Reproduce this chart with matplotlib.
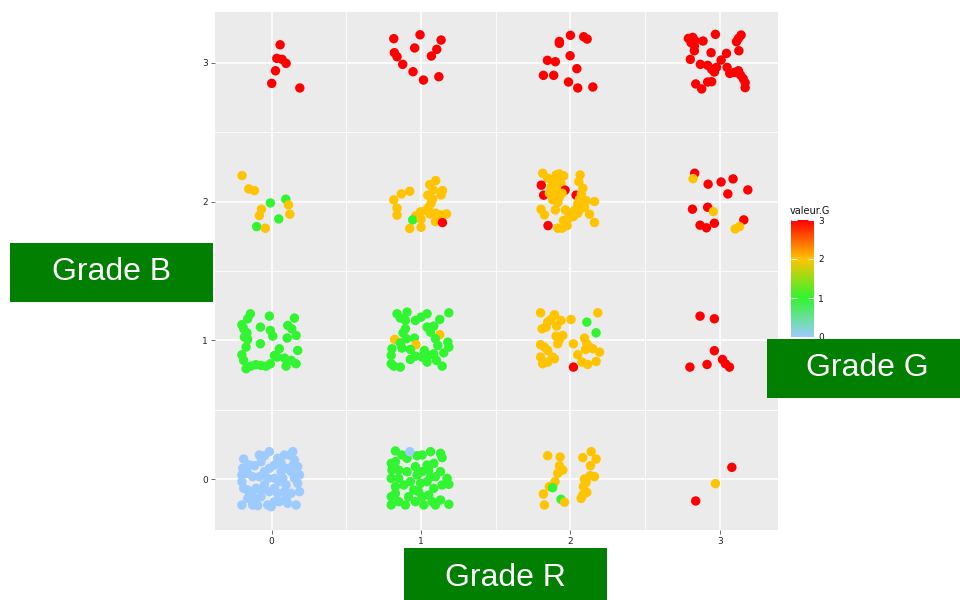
import matplotlib.pyplot as plt
import numpy as np
from matplotlib.colors import LinearSegmentedColormap
from matplotlib.patches import Rectangle

# jittered points per cell (grade R, grade B): (offset R, offset B, valeur.G)
r0_b3 = [(0.056, 0.129, 3), (0.034, 0.031, 3), (0.069, 0.024, 3), (0.096, -0.005, 3),
         (0.025, -0.058, 3), (0.0, -0.149, 3), (0.188, -0.182, 3)]
r1_b3 = [(-0.183, 0.173, 3), (-0.007, 0.201, 3), (0.134, 0.163, 3), (-0.043, 0.106, 3),
         (0.105, 0.096, 3), (-0.179, 0.072, 3), (-0.161, 0.043, 3), (0.069, 0.048, 3),
         (-0.123, -0.012, 3), (-0.054, -0.065, 3), (0.016, -0.125, 3), (0.119, -0.101, 3)]
r2_b3 = [(-0.074, 0.153, 3), (-0.074, 0.139, 3), (0.0, 0.197, 3), (0.089, 0.187, 3),
         (0.112, 0.170, 3), (-0.002, 0.050, 3), (-0.154, 0.017, 3), (-0.101, 0.007, 3),
         (0.043, -0.043, 3), (-0.181, -0.091, 3), (-0.112, -0.091, 3), (-0.013, -0.139, 3),
         (0.049, -0.182, 3), (0.150, -0.175, 3)]
r3_b3 = [(-0.210, 0.175, 3), (-0.181, 0.182, 3), (-0.166, 0.158, 3), (-0.192, 0.144, 3),
         (-0.170, 0.120, 3), (-0.112, 0.156, 3), (-0.029, 0.204, 3), (0.143, 0.199, 3),
         (0.125, 0.175, 3), (0.112, 0.151, 3), (-0.170, 0.086, 3), (-0.058, 0.072, 3),
         (0.045, 0.067, 3), (0.128, 0.086, 3), (-0.197, 0.024, 3), (0.009, 0.019, 3),
         (-0.130, -0.012, 3), (-0.081, -0.019, 3), (-0.054, -0.048, 3), (-0.022, -0.034, 3),
         (-0.036, -0.067, 3), (0.049, -0.034, 3), (0.067, -0.077, 3), (0.098, -0.070, 3),
         (0.125, -0.058, 3), (0.139, -0.089, 3), (0.157, -0.115, 3), (0.170, -0.144, 3),
         (0.170, -0.180, 3), (-0.161, -0.153, 3), (-0.121, -0.189, 3), (-0.081, -0.139, 3),
         (-0.054, -0.137, 3)]

r0_b2 = [(-0.199, 0.187, 2), (-0.154, 0.091, 2), (-0.116, 0.079, 2), (-0.009, -0.010, 1),
         (0.094, 0.017, 1), (0.112, -0.024, 2), (0.121, -0.091, 2), (-0.069, -0.055, 2),
         (-0.083, -0.101, 2), (0.047, -0.125, 1), (-0.101, -0.180, 1), (-0.043, -0.192, 2)]
r1_b2 = [(0.098, 0.151, 2), (0.058, 0.122, 2), (0.081, 0.084, 2), (0.143, 0.079, 2),
         (0.134, 0.048, 2), (0.045, 0.046, 2), (-0.076, 0.074, 2), (-0.132, 0.055, 2),
         (-0.183, 0.012, 2), (-0.161, -0.048, 2), (-0.161, -0.098, 2), (0.078, 0.017, 2),
         (0.067, -0.012, 2), (0.051, -0.041, 2), (0.031, -0.065, 2), (-0.004, -0.074, 2),
         (-0.036, -0.103, 2), (-0.056, -0.132, 1), (0.0, -0.127, 2), (-0.076, -0.194, 2),
         (0.0, -0.185, 2), (0.098, -0.084, 2), (0.130, -0.096, 2), (0.170, -0.089, 2),
         (0.096, -0.144, 2), (0.121, -0.132, 2), (0.143, -0.151, 3), (0.058, -0.089, 2)]
r2_b2 = [(-0.186, 0.204, 2), (-0.152, 0.168, 2), (-0.096, 0.192, 2), (-0.074, 0.199, 2),
         (-0.045, 0.185, 2), (-0.119, 0.144, 2), (-0.085, 0.151, 2), (-0.063, 0.127, 2),
         (0.065, 0.192, 2), (0.056, 0.144, 2), (0.083, 0.096, 2), (-0.195, 0.118, 3),
         (-0.179, 0.046, 3), (-0.036, 0.082, 3), (0.038, 0.046, 3), (-0.141, 0.060, 2),
         (-0.107, 0.048, 2), (-0.074, 0.031, 2), (-0.130, 0.103, 2), (-0.096, 0.084, 2),
         (-0.056, 0.060, 2), (-0.085, -0.007, 2), (-0.119, 0.012, 2), (0.060, 0.017, 2),
         (0.105, 0.007, 2), (0.161, 0.0, 2), (-0.197, -0.055, 2), (-0.174, -0.096, 2),
         (-0.101, -0.060, 2), (-0.034, -0.060, 2), (-0.011, -0.084, 2), (0.027, -0.065, 2),
         (0.065, -0.055, 2), (0.128, -0.091, 2), (-0.018, -0.127, 2), (0.020, -0.108, 2),
         (0.049, -0.084, 2), (-0.047, -0.137, 2), (0.161, -0.151, 2), (-0.150, -0.173, 3),
         (-0.085, -0.192, 2), (-0.056, -0.192, 2), (-0.022, -0.173, 2), (0.049, -0.017, 2),
         (0.094, -0.041, 2), (0.074, 0.055, 2)]
r3_b2 = [(-0.168, 0.204, 3), (-0.179, 0.165, 2), (-0.078, 0.125, 3), (0.009, 0.141, 3),
         (0.089, 0.163, 3), (0.054, 0.055, 3), (0.188, 0.084, 3), (-0.183, -0.055, 3),
         (-0.081, -0.041, 3), (-0.043, -0.072, 2), (-0.132, -0.170, 3), (-0.089, -0.189, 3),
         (-0.036, -0.156, 3), (0.161, -0.132, 3), (0.103, -0.197, 2), (0.132, -0.180, 2)]

r0_b1 = [(-0.143, 0.192, 1), (-0.161, 0.156, 1), (-0.200, 0.113, 1), (-0.188, 0.084, 1),
         (-0.166, 0.055, 1), (-0.183, 0.024, 1), (-0.016, 0.175, 1), (-0.076, 0.096, 1),
         (-0.009, 0.072, 1), (0.007, 0.031, 1), (0.152, 0.161, 1), (0.107, 0.108, 1),
         (0.134, 0.084, 1), (0.163, 0.036, 1), (0.103, 0.017, 1), (-0.076, -0.024, 1),
         (-0.172, -0.048, 1), (-0.200, -0.103, 1), (-0.188, -0.144, 1), (-0.172, -0.204, 1),
         (-0.139, -0.185, 1), (-0.105, -0.175, 1), (-0.072, -0.180, 1), (-0.038, -0.185, 1),
         (-0.009, -0.168, 1), (0.018, -0.108, 1), (0.051, -0.060, 1), (0.085, -0.127, 1),
         (0.096, -0.185, 1), (0.130, -0.144, 1), (0.163, -0.168, 1), (0.174, -0.072, 1),
         (0.036, -0.120, 1), (-0.161, 0.007, 1)]
r1_b1 = [(-0.161, 0.192, 1), (-0.139, 0.161, 1), (-0.105, 0.144, 1), (-0.094, 0.204, 1),
         (-0.038, 0.144, 1), (0.0, 0.168, 1), (0.040, 0.192, 1), (0.186, 0.199, 1),
         (0.125, 0.151, 1), (-0.105, 0.084, 1), (-0.121, 0.055, 1), (0.040, 0.096, 1),
         (0.085, 0.103, 1), (0.063, 0.060, 1), (-0.098, 0.012, 1), (-0.177, 0.007, 2),
         (-0.139, -0.017, 1), (-0.128, -0.055, 1), (-0.045, 0.017, 1), (-0.034, -0.031, 2),
         (-0.072, -0.065, 1), (0.125, 0.041, 2), (0.096, 0.012, 1), (0.179, -0.012, 1),
         (0.186, -0.048, 1), (0.112, -0.036, 1), (0.152, -0.089, 1), (-0.195, -0.060, 1),
         (-0.200, -0.108, 1), (-0.200, -0.168, 1), (-0.183, -0.185, 1), (-0.139, -0.192, 1),
         (-0.072, -0.137, 1), (-0.038, -0.113, 1), (0.007, -0.120, 1), (0.051, -0.108, 1),
         (0.085, -0.096, 1), (0.103, -0.144, 1), (0.141, -0.185, 1), (0.040, -0.156, 1),
         (0.022, -0.072, 1)]
r2_b1 = [(-0.200, 0.199, 2), (-0.107, 0.185, 2), (-0.130, 0.151, 2), (-0.152, 0.132, 2),
         (-0.163, 0.096, 2), (-0.190, 0.084, 2), (-0.092, 0.103, 2), (-0.063, 0.144, 2),
         (0.004, 0.151, 2), (0.183, 0.199, 2), (0.110, 0.132, 1), (0.172, 0.055, 1),
         (-0.096, 0.031, 2), (-0.074, 0.007, 2), (-0.051, 0.036, 2), (-0.200, -0.031, 2),
         (-0.174, -0.048, 2), (-0.152, -0.072, 2), (-0.119, -0.120, 2), (-0.200, -0.120, 2),
         (-0.186, -0.168, 2), (-0.152, -0.156, 2), (-0.107, -0.132, 2), (0.020, -0.024, 2),
         (0.094, 0.017, 2), (0.110, -0.024, 2), (0.128, -0.048, 2), (0.101, -0.065, 2),
         (0.049, -0.103, 2), (0.078, -0.156, 2), (0.116, -0.173, 2), (0.172, -0.151, 2),
         (0.195, -0.084, 2), (0.150, -0.060, 2), (-0.085, -0.024, 2), (0.020, -0.192, 3)]
r3_b1 = [(-0.132, 0.175, 3), (-0.036, 0.156, 3), (-0.036, -0.074, 3), (-0.085, -0.173, 3),
         (-0.200, -0.192, 3), (0.018, -0.137, 3), (0.038, -0.168, 3), (0.065, -0.192, 3)]

r0_b0 = [(-0.188, 0.146, 0), (-0.195, 0.079, 0), (-0.200, 0.031, 0), (-0.200, -0.017, 0),
         (-0.188, -0.065, 0), (-0.200, -0.185, 0), (-0.161, -0.137, 0), (-0.128, -0.185, 0),
         (-0.094, -0.189, 0), (-0.027, -0.185, 0), (-0.072, -0.125, 0), (-0.016, -0.089, 0),
         (0.018, -0.065, 0), (0.040, -0.101, 0), (0.096, -0.137, 0), (0.107, -0.173, 0),
         (0.163, -0.185, 0), (0.186, -0.089, 0), (0.174, -0.029, 0), (0.186, 0.031, 0),
         (0.174, 0.091, 0), (0.152, 0.139, 0), (0.119, 0.175, 0), (0.141, 0.199, 0),
         (0.085, 0.175, 0), (0.040, 0.151, 0), (0.018, 0.103, 0), (-0.016, 0.199, 0),
         (-0.049, 0.170, 0), (-0.083, 0.175, 0), (-0.072, 0.127, 0), (-0.116, 0.098, 0),
         (-0.150, 0.103, 0), (-0.161, 0.043, 0), (-0.128, 0.019, 0), (-0.083, 0.019, 0),
         (-0.049, 0.055, 0), (-0.016, 0.079, 0), (0.063, 0.115, 0), (0.096, 0.079, 0),
         (0.130, 0.055, 0), (0.074, 0.007, 0), (0.096, -0.041, 0), (0.051, -0.017, 0),
         (0.018, 0.007, 0), (-0.049, -0.041, 0), (-0.105, -0.065, 0), (-0.161, -0.077, 0),
         (-0.139, -0.108, 0), (-0.072, -0.077, 0), (0.018, -0.161, 0), (0.051, -0.161, 0),
         (0.130, -0.101, 0), (0.152, 0.007, 0), (-0.027, 0.007, 0), (-0.105, -0.137, 0),
         (-0.004, -0.197, 0), (0.085, -0.089, 0), (0.141, 0.098, 0), (0.063, 0.055, 0)]
r1_b0 = [(-0.172, 0.204, 1), (-0.128, 0.175, 1), (-0.094, 0.151, 1), (-0.200, 0.115, 1),
         (-0.172, 0.127, 1), (-0.027, 0.170, 1), (0.007, 0.175, 1), (0.063, 0.199, 1),
         (0.130, 0.187, 1), (0.141, 0.156, 1), (0.085, 0.115, 1), (0.040, 0.103, 1),
         (-0.038, 0.091, 1), (0.007, 0.055, 1), (0.051, 0.067, 1), (-0.027, 0.031, 1),
         (-0.094, 0.055, 1), (-0.195, 0.067, 1), (-0.200, 0.007, 1), (-0.150, 0.007, 1),
         (-0.116, -0.041, 1), (-0.172, -0.053, 1), (-0.200, -0.125, 1), (-0.200, -0.185, 1),
         (-0.150, -0.161, 1), (-0.105, -0.185, 1), (-0.172, -0.101, 1), (-0.083, -0.125, 1),
         (-0.049, -0.077, 1), (-0.004, -0.029, 1), (0.040, -0.017, 1), (0.096, 0.019, 1),
         (0.130, 0.055, 1), (0.174, 0.007, 1), (0.186, -0.036, 1), (0.141, -0.041, 1),
         (0.085, -0.065, 1), (0.051, -0.113, 1), (0.007, -0.125, 1), (-0.038, -0.161, 1),
         (0.018, -0.185, 1), (0.074, -0.161, 1), (0.130, -0.149, 1), (0.186, -0.180, 1),
         (0.096, -0.185, 1), (-0.016, -0.089, 1), (-0.072, -0.017, 1), (0.063, 0.019, 1),
         (-0.150, 0.067, 1), (-0.076, 0.199, 0)]
r2_b0 = [(-0.152, 0.170, 2), (-0.069, 0.161, 2), (-0.074, 0.098, 2), (-0.051, 0.067, 2),
         (-0.085, 0.043, 2), (-0.103, -0.017, 2), (-0.141, -0.053, 2), (-0.119, -0.060, 1),
         (-0.181, -0.106, 2), (-0.174, -0.185, 2), (-0.063, -0.144, 1), (-0.040, -0.165, 2),
         (0.083, 0.156, 2), (0.139, 0.199, 2), (0.172, 0.146, 2), (0.134, 0.098, 2),
         (0.094, 0.002, 2), (0.132, 0.026, 2), (0.161, 0.019, 2), (0.087, -0.053, 2),
         (0.110, -0.094, 2), (0.083, -0.113, 2), (0.072, -0.137, 2), (0.105, -0.022, 2)]
r3_b0 = [(0.081, 0.086, 3), (-0.029, -0.031, 2), (-0.161, -0.156, 3)]

cells = [(0, 0, r0_b0), (1, 0, r1_b0), (2, 0, r2_b0), (3, 0, r3_b0),
         (0, 1, r0_b1), (1, 1, r1_b1), (2, 1, r2_b1), (3, 1, r3_b1),
         (0, 2, r0_b2), (1, 2, r1_b2), (2, 2, r2_b2), (3, 2, r3_b2),
         (0, 3, r0_b3), (1, 3, r1_b3), (2, 3, r2_b3), (3, 3, r3_b3)]

grade_ticks = [0, 1, 2, 3]
legend_title = "valeur.G"

grade_r, grade_b, valeur_g = [], [], []
for r, b, pts in cells:
    for jr, jb, g in pts:
        grade_r.append(r + jr)
        grade_b.append(b + jb)
        valeur_g.append(g)

cmap = LinearSegmentedColormap.from_list(
    "valeur", ["#9DCBFF", "#30F530", "#FFC300", "#FF0000"])

fig = plt.figure(figsize=(9.6, 6), dpi=100)
ax = fig.add_axes([215 / 960, 1 - 530 / 600, 563 / 960, 518 / 600])
ax.set_facecolor("#EBEBEB")
sc = ax.scatter(grade_r, grade_b, c=valeur_g, cmap=cmap, vmin=0, vmax=3,
                s=46, linewidths=0, zorder=3)

ax.set_xlim(-0.38, 3.39)
ax.set_ylim(-0.365, 3.365)
ax.set_xticks(grade_ticks)
ax.set_yticks(grade_ticks)
ax.set_xticks([0.5, 1.5, 2.5], minor=True)
ax.set_yticks([0.5, 1.5, 2.5], minor=True)
ax.grid(which="major", color="white", linewidth=1.2)
ax.grid(which="minor", color="white", linewidth=0.6)
ax.set_axisbelow(True)
for s in ax.spines.values():
    s.set_visible(False)
ax.tick_params(which="major", length=3, width=0.6, color="#555555",
               labelsize=6.5, labelcolor="#222222", pad=2)
ax.tick_params(which="minor", length=0)

# colour bar legend
cax = fig.add_axes([791 / 960, 1 - 337 / 600, 23 / 960, 117 / 600])
cb = fig.colorbar(sc, cax=cax, ticks=grade_ticks)
cb.outline.set_visible(False)
cax.yaxis.set_ticks_position("both")
cax.yaxis.set_label_position("right")
cax.tick_params(direction="in", length=4, width=0.8, color="white",
                labelsize=6.5, labelcolor="#111111", pad=3, labelleft=False,
                labelright=True)
fig.text(790 / 960, 1 - 211 / 600, legend_title, fontsize=7, va="center",
         ha="left", color="#111111")

# green grade labels
boxes = [("Grade B", 10, 243, 203, 59),
         ("Grade G", 767, 339, 200, 59),
         ("Grade R", 404, 548, 203, 60)]
for label, x, y, w, h in boxes:
    fig.patches.append(Rectangle((x / 960, 1 - (y + h) / 600), w / 960, h / 600,
                                 transform=fig.transFigure, facecolor="#017F01",
                                 edgecolor="none", zorder=5))
    cx = min(x + w / 2, 868)
    fig.text(cx / 960, 1 - (y + h / 2) / 600, label, fontsize=23,
             family="Liberation Sans", color="white", ha="center",
             va="center", zorder=6)

fig.savefig("out.png", dpi=100)
